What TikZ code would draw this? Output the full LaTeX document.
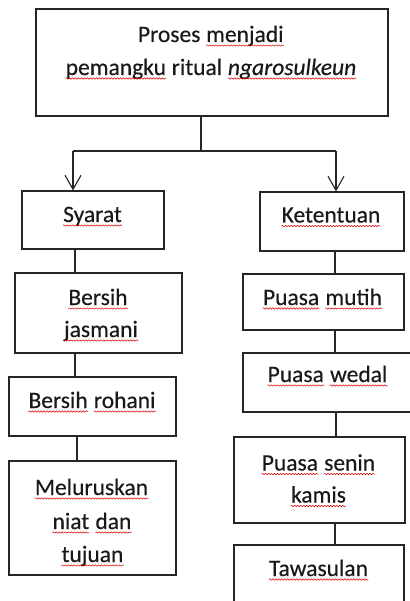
\documentclass[tikz,border=0pt]{standalone}
\usepackage{fontspec}
\setmainfont{Carlito}[FakeBold=0.3]
\usepackage{tikz}
\usetikzlibrary{arrows.meta, positioning, decorations.pathmorphing}

% red spell-check wave under a word
\newcommand{\sq}[1]{\tikz[baseline=(sqw.base)]{\node[inner sep=0pt] (sqw) {#1};
  \draw[red!85!black, line width=0.5pt, decorate,
        decoration={snake, amplitude=0.7pt, segment length=3pt}]
    ([yshift=-3.5pt]sqw.base west) -- ([yshift=-3.5pt]sqw.base east);}}

\tikzset{
  box/.style={draw=black!85, line width=1.2pt, inner sep=0pt},
  lbl/.style={inner sep=0pt, anchor=base, text=black!90,
              font=\fontsize{23.5}{28}\selectfont},
  link/.style={draw=black!85, line width=1.1pt},
  arr/.style={link, -{Straight Barb[length=14pt, width=16pt]}},
}

\begin{document}
\begin{tikzpicture}[x=1pt, y=-1pt]
    \useasboundingbox[fill=white] (0,0) rectangle (409,601);
    %% boxes
    \node[box, minimum width=352pt, minimum height=107pt] (top) at (212,62.5) {};
    \node[box, minimum width=142pt, minimum height=58pt] (syarat) at (93,220) {};
    \node[box, minimum width=167pt, minimum height=80pt] (jasmani) at (98.5,313) {};
    \node[box, minimum width=167pt, minimum height=59pt] (rohani) at (92.5,406.5) {};
    \node[box, minimum width=167pt, minimum height=114pt] (niat) at (92.5,518) {};
    \node[box, minimum width=144pt, minimum height=59pt] (ketentuan) at (332,221.5) {};
    \node[box, minimum width=161pt, minimum height=56pt] (mutih) at (323.5,302) {};
    \node[box, minimum width=172pt, minimum height=59pt] (wedal) at (329,382.5) {};
    \node[box, minimum width=171pt, minimum height=86pt] (senin) at (319.5,480) {};
    \node[box, minimum width=170pt, minimum height=70pt] (tawasul) at (319,580) {};
    %% texts
    \node[lbl] (topA) at (211,42) {Proses \sq{menjadi}};
    \node[lbl] (topB) at (211,75) {\sq{pemangku} ritual \sq{\itshape ngarosulkeun}};
    \node[lbl] (syaratT) at (92.5,222) {\sq{Syarat}};
    \node[lbl] (jasmaniA) at (98,305) {\sq{Bersih}};
    \node[lbl] (jasmaniB) at (101,337) {\sq{jasmani}};
    \node[lbl] (rohaniT) at (92,408) {\sq{Bersih} \sq{rohani}};
    \node[lbl] (niatA) at (91.5,495) {\sq{Meluruskan}};
    \node[lbl] (niatB) at (92,529) {\sq{niat} \sq{dan}};
    \node[lbl] (niatC) at (92.5,562) {\sq{tujuan}};
    \node[lbl] (ketentuanT) at (331,222.5) {\sq{Ketentuan}};
    \node[lbl] (mutihT) at (322.5,305) {\sq{Puasa} \sq{mutih}};
    \node[lbl] (wedalT) at (327.5,382) {\sq{Puasa} \sq{wedal}};
    \node[lbl] (seninA) at (318.5,470.5) {\sq{Puasa} \sq{senin}};
    \node[lbl] (seninB) at (318.5,502.5) {\sq{kamis}};
    \node[lbl] (tawasulT) at (318.5,576) {\sq{Tawasulan}};
    %% split to both branches
    \coordinate (split) at (201,151);
    \coordinate (splitL) at (73,151);
    \coordinate (splitR) at (336,151);
    \draw[link] (top.south -| split) -- (split);
    \draw[link] (splitL) -- (splitR);
    \draw[arr] (splitL) -- (splitL |- syarat.north);
    \draw[arr] (splitR) -- (splitR |- ketentuan.north);
    %% left chain
    \draw[link] (syarat.south -| 75,0) -- (jasmani.north -| 75,0);
    \draw[link] (jasmani.south -| 75,0) -- (rohani.north -| 75,0);
    \draw[link] (rohani.south -| 77,0) -- (niat.north -| 77,0);
    %% right chain
    \draw[link] (ketentuan.south -| 335,0) -- (mutih.north -| 335,0);
    \draw[link] (mutih.south -| 335,0) -- (wedal.north -| 335,0);
    \draw[link] (wedal.south -| 336,0) -- (senin.north -| 336,0);
    \draw[link] (senin.south -| 335,0) -- (tawasul.north -| 335,0);
\end{tikzpicture}
\end{document}
